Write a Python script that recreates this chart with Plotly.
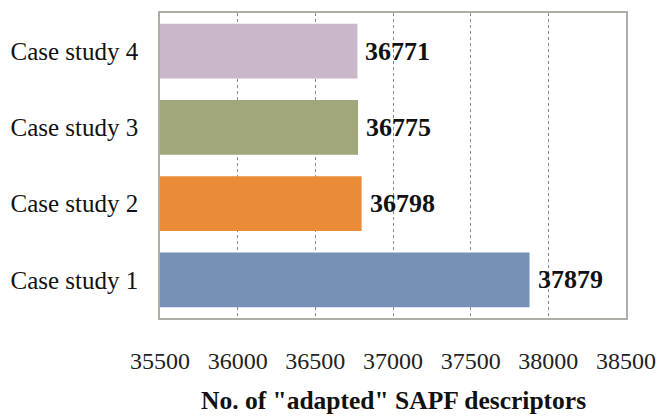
import plotly.graph_objects as go

# Category order bottom-to-top on the y axis
cases = ["Case study 1", "Case study 2", "Case study 3", "Case study 4"]
descriptor_counts = [37879, 36798, 36775, 36771]
bar_colors = ["#7790b6", "#ea8c37", "#a1a77a", "#c8b8ca"]
x_ticks = [35500, 36000, 36500, 37000, 37500, 38000, 38500]

SERIF = "Liberation Serif, Times New Roman, serif"

fig = go.Figure(
    go.Bar(
        x=descriptor_counts,
        y=cases,
        orientation="h",
        base=0,
        marker=dict(color=bar_colors, line=dict(width=0)),
        showlegend=False,
    )
)

# Value labels just past the end of each bar
for case, val in zip(cases, descriptor_counts):
    fig.add_annotation(
        x=val, y=case, xref="x", yref="y",
        text=f"<b>{val}</b>", showarrow=False,
        xanchor="left", xshift=6,
        font=dict(family=SERIF, size=26, color="#111111"),
    )

fig.add_annotation(
    x=0.5, y=-0.272, xref="paper", yref="paper",
    text='<b>No. of "adapted" SAPF descriptors</b>', showarrow=False,
    xanchor="center", yanchor="middle",
    font=dict(family=SERIF, size=25.5, color="#111111"),
)

fig.update_layout(
    width=659, height=417,
    margin=dict(l=160, r=33, t=13, b=99),
    paper_bgcolor="white", plot_bgcolor="white",
    bargap=0.28,
    font=dict(family=SERIF, color="#111111"),
)

fig.update_xaxes(
    range=[x_ticks[0], x_ticks[-1]],
    tickvals=x_ticks,
    ticktext=[str(t) for t in x_ticks],
    tickfont=dict(family=SERIF, size=24, color="#222222"),
    ticklabelstandoff=20,
    automargin=False,
    showgrid=True, gridcolor="#8a8a8a", gridwidth=1, griddash="dot",
    showline=True, linecolor="#b0aca8", linewidth=1.5, mirror=True,
    zeroline=False, ticks="",
)
fig.update_yaxes(
    categoryorder="array", categoryarray=cases,
    tickfont=dict(family=SERIF, size=25, color="#111111"),
    ticklabelstandoff=15,
    automargin=False,
    showgrid=False,
    showline=True, linecolor="#b0aca8", linewidth=1.5, mirror=True,
    ticks="",
)

fig.write_html("out.html")
